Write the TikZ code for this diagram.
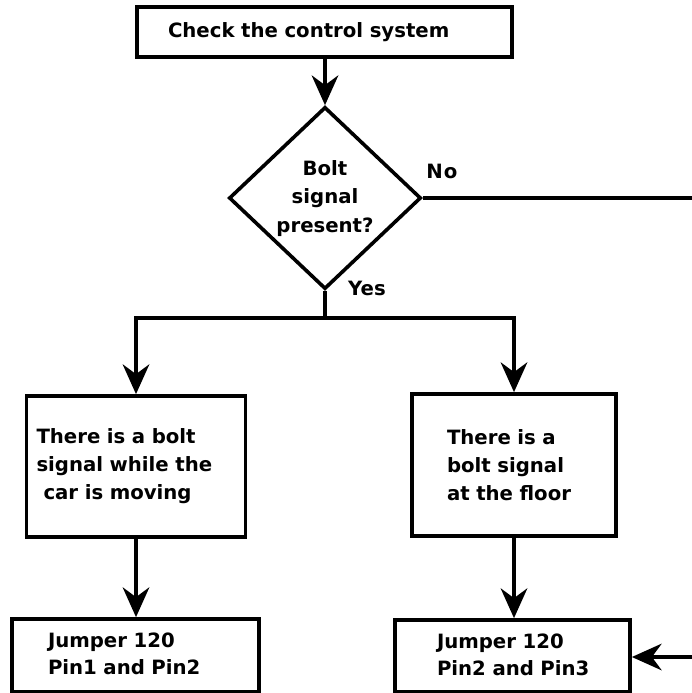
\documentclass[tikz,border=0pt]{standalone}
\usepackage{fontspec}
\setmainfont{DejaVu Sans}
\usetikzlibrary{shapes.geometric,arrows.meta}
\begin{document}
\begin{tikzpicture}[x=1pt,y=-1pt,
  every node/.style={font=\bfseries\fontsize{19.7}{28}\selectfont},
  box/.style={draw,line width=3.8pt,rectangle,align=left,inner ysep=0pt,anchor=center},
  arr/.style={line width=3.6pt,arrows={-Stealth[length=30pt,width=27pt,inset=10pt,line width=0pt]}},
  ln/.style={line width=3.6pt}]
\useasboundingbox (0,0) rectangle (692,693);
\fill[white] (0,0) rectangle (692,693);
% nodes
\node[box,minimum height=50pt,inner xsep=31pt,text width=313pt] (top) at (324.5,32) {Check the control system};
\node[draw,line width=3.6pt,shape=diamond,inner sep=0pt,minimum width=192pt,minimum height=175pt,align=center] (dia) at (325,198) {\raisebox{7pt}{\begin{tabular}{@{}c@{}}Bolt\\[0.5pt] signal\\[0.5pt] present?\end{tabular}}};
\node[box,minimum height=141pt,inner xsep=10pt,text width=199pt] (lb) at (136,466.5) {There is a bolt\\signal while the\\\hspace*{7pt}car is moving};
\node[box,minimum height=142pt,inner xsep=35pt,text width=134pt] (rb) at (514,465) {There is a\\bolt signal\\at the floor};
\node[box,minimum height=73pt,inner xsep=36pt,text width=175pt] (lj) at (135.5,655.5) {\raisebox{-5pt}{\begin{tabular}{@{}l@{}}Jumper 120\\[-1pt]Pin1 and Pin2\end{tabular}}};
\node[box,minimum height=72pt,inner xsep=42pt,text width=151pt] (rj) at (512.5,656) {\raisebox{-5pt}{\begin{tabular}{@{}l@{}}Jumper 120\\[-1pt]Pin2 and Pin3\end{tabular}}};
\node (no) at (442,171) {N\hspace{1pt}o};
\node (yes) at (367,288) {Yes};
\coordinate (split) at (325,318);
\coordinate (noend) at (692,198);
\coordinate (inend) at (692,657);
% connectors
\draw[arr] (top.south -| dia.north) -- (dia.north);
\draw[ln] (dia.south) -- (split);
\draw[arr] (split) -| (lb.north);
\draw[arr] (split) -| (rb.north);
\draw[ln] (dia.east) -- (noend);
\draw[arr] (lb.south) -- (lb.south |- lj.north);
\draw[arr] (rb.south) -- (rb.south |- rj.north);
\draw[arr] (inend) -- (rj.east |- inend);
\end{tikzpicture}
\end{document}
